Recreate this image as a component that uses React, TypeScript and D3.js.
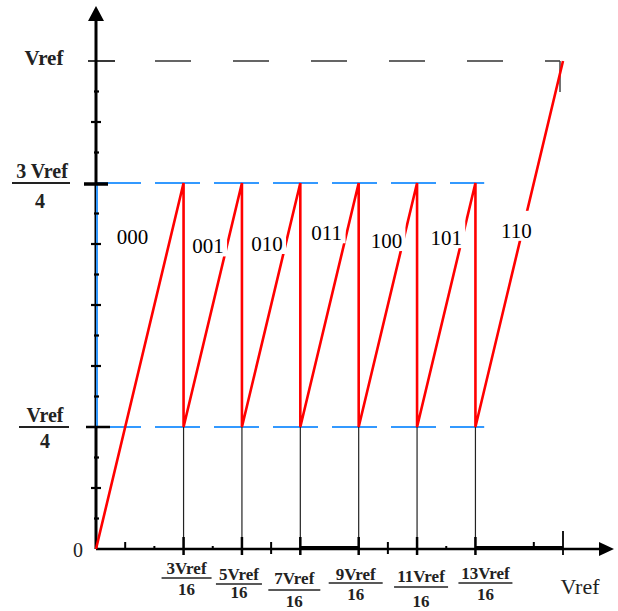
import React from "react";
import * as d3 from "d3";

// ---- data (x in sixteenths of Vref, y as fraction of Vref) ----
const rampX = [0, 3, 3, 5, 5, 7, 7, 9, 9, 11, 11, 13, 13, 16];
const rampY = [0, 0.75, 0.25, 0.75, 0.25, 0.75, 0.25, 0.75, 0.25, 0.75, 0.25, 0.75, 0.25, 1];
const codes = ["000", "001", "010", "011", "100", "101", "110"];
const transitions = [3, 5, 7, 9, 11, 13];
const xTickLabels = ["3Vref", "5Vref", "7Vref", "9Vref", "11Vref", "13Vref"];
const xTickDen = "16";
const sixteenths = d3.range(1, 17);
const levelLow = 0.25;
const levelHigh = 0.75;
const levelFull = 1;

// ---- layout (hand placement, as in the original drawing) ----
const W = 618;
const H = 611;
const x0 = 96, x1 = 563;
const y0 = 549, y1 = 61;
const codePos = [
  [1.25, 0.64], [3.84, 0.62], [5.86, 0.625], [7.9, 0.647], [9.95, 0.631], [12.0, 0.637], [14.4, 0.652],
];
const xLab = [
  { dx: 3, nb: 574, ly: 578, db: 595, hw: 25 },
  { dx: -3, nb: 580, ly: 584, db: 598, hw: 23 },
  { dx: -6, nb: 584, ly: 590, db: 607, hw: 26 },
  { dx: -3, nb: 580, ly: 583, db: 600, hw: 27 },
  { dx: 4, nb: 582, ly: 587, db: 607, hw: 27 },
  { dx: 10, nb: 579, ly: 583, db: 600, hw: 27 },
];

const serif = "'Liberation Serif', 'Times New Roman', serif";

export default function App() {
  const x = d3.scaleLinear().domain([0, 16]).range([x0, x1]);
  const y = d3.scaleLinear().domain([0, 1]).range([y0, y1]);
  const line = d3
    .line<number>()
    .x((_, i) => x(rampX[i]))
    .y((d) => y(d));
  const red = "#ff0000";
  const blue = "#3399ff";

  return (
    <svg
      width={W}
      height={H}
      style={{ position: "absolute", left: 0, top: 0, background: "#fff" }}
      fontFamily={serif}
    >
      {/* Vref dashed */}
      <line x1={155} x2={560} y1={y(levelFull)} y2={y(levelFull)} stroke="#333" strokeWidth={1.5} strokeDasharray="36 42" />
      <line x1={88} x2={115} y1={y(levelFull)} y2={y(levelFull)} stroke="#222" strokeWidth={1.8} />
      <line x1={x(16) - 3} x2={x(16) - 3} y1={y(levelFull)} y2={y(levelFull) + 31} stroke="#444" strokeWidth={1.5} />

      {/* blue dashed levels */}
      {[levelHigh, levelLow].map((lv) => (
        <line key={lv} x1={x(0)} x2={x(13.3)} y1={y(lv)} y2={y(lv)} stroke={blue} strokeWidth={2} strokeDasharray="45 14" />
      ))}

      {/* thin verticals from low level to axis */}
      {transitions.map((t) => (
        <g key={t}>
          <line x1={x(t)} x2={x(t)} y1={y(levelLow)} y2={y0} stroke="#222" strokeWidth={1.2} />
          <line x1={x(t)} x2={x(t)} y1={y0 - 12} y2={y0 + 6} stroke="#000" strokeWidth={2.5} />
        </g>
      ))}
      <line x1={x(16)} x2={x(16)} y1={y0 - 18} y2={y0 + 6} stroke="#000" strokeWidth={1.8} />

      {/* x axis */}
      <line x1={x0} x2={604} y1={y0} y2={y0} stroke="#000" strokeWidth={2.5} />
      <line x1={x(7)} x2={x(9)} y1={y0 - 1} y2={y0 - 1} stroke="#000" strokeWidth={4} />
      <line x1={x(13)} x2={x(16)} y1={y0 - 1} y2={y0 - 1} stroke="#000" strokeWidth={4} />
      <path d={`M${614},${y0} L${599},${y0 - 7} L${599},${y0 + 7} Z`} fill="#000" />
      {sixteenths
        .filter((k) => !transitions.includes(k) && k !== 8 && k !== 14 && k !== 16)
        .map((k) => {
          const tiny = k === 2 || k === 4 || k === 12;
          return (
            <line
              key={"xt" + k}
              x1={x(k)}
              x2={x(k)}
              y1={tiny ? y0 - 3 : y0 - 7}
              y2={tiny ? y0 : k === 1 || k === 15 ? y0 : y0 + 5}
              stroke="#000"
              strokeWidth={2}
            />
          );
        })}

      {/* y axis */}
      <line x1={x0} x2={x0} y1={y0} y2={16} stroke="#000" strokeWidth={3} />
      <path d={`M${x0},${6} L${x0 - 8},${21} L${x0 + 8},${21} Z`} fill="#000" />
      <line x1={x0 + 1} x2={x0 + 1} y1={y(levelHigh)} y2={y(levelLow)} stroke={blue} strokeWidth={2} />
      {sixteenths
        .filter((k) => k !== 4 && k !== 12 && k !== 16)
        .map((k) => (
          <line
            key={"yt" + k}
            x1={x0 - (k % 2 === 0 ? 5 : 2)}
            x2={x0 + (k % 2 === 0 ? 5 : 3)}
            y1={y(k / 16)}
            y2={y(k / 16)}
            stroke="#000"
            strokeWidth={2.2}
          />
        ))}
      <line x1={86} x2={110} y1={y(levelLow)} y2={y(levelLow)} stroke="#000" strokeWidth={2.5} />
      <line x1={84} x2={108} y1={y(levelHigh) + 1} y2={y(levelHigh) + 1} stroke="#000" strokeWidth={3.5} />

      {/* red sawtooth */}
      <path d={line(rampY) || ""} fill="none" stroke={red} strokeWidth={2.6} strokeLinejoin="miter" />

      {/* code labels */}
      {codes.map((c, i) => {
        const cx = x(codePos[i][0]);
        const cy = y(codePos[i][1]);
        return (
          <g key={c}>
            <rect x={cx - 19} y={cy - 20} width={38} height={30} fill="#fff" />
            <text x={cx} y={cy + 7} textAnchor="middle" fontSize={21} fill="#000">
              {c}
            </text>
          </g>
        );
      })}

      {/* y labels */}
      <text x={44} y={65} textAnchor="middle" fontSize={21} fontWeight="bold" fill="#222">Vref</text>
      <text x={42} y={178} textAnchor="middle" fontSize={20} fontWeight="bold" fill="#222">3 Vref</text>
      <line x1={12} x2={70} y1={y(levelHigh)} y2={y(levelHigh)} stroke="#222" strokeWidth={2} />
      <text x={40} y={208} textAnchor="middle" fontSize={20} fontWeight="bold" fill="#222">4</text>
      <text x={45} y={422} textAnchor="middle" fontSize={20} fontWeight="bold" fill="#222">Vref</text>
      <line x1={19} x2={69} y1={y(levelLow)} y2={y(levelLow)} stroke="#222" strokeWidth={2} />
      <text x={45} y={448} textAnchor="middle" fontSize={20} fontWeight="bold" fill="#222">4</text>
      <text x={78} y={557} textAnchor="middle" fontSize={20} fill="#222">0</text>

      {/* x labels */}
      {transitions.map((t, i) => {
        const L = xLab[i];
        const cx = x(t) + L.dx;
        return (
          <g key={"xl" + t}>
            <text x={cx} y={L.nb} textAnchor="middle" fontSize={17} fontWeight="bold" fill="#222">
              {xTickLabels[i]}
            </text>
            <line x1={cx - L.hw} x2={cx + L.hw} y1={L.ly} y2={L.ly} stroke="#222" strokeWidth={1.3} />
            <text x={cx} y={L.db} textAnchor="middle" fontSize={17} fontWeight="bold" fill="#222">
              {xTickDen}
            </text>
          </g>
        );
      })}
      <text x={580} y={594} textAnchor="middle" fontSize={22} fill="#222">Vref</text>
    </svg>
  );
}
